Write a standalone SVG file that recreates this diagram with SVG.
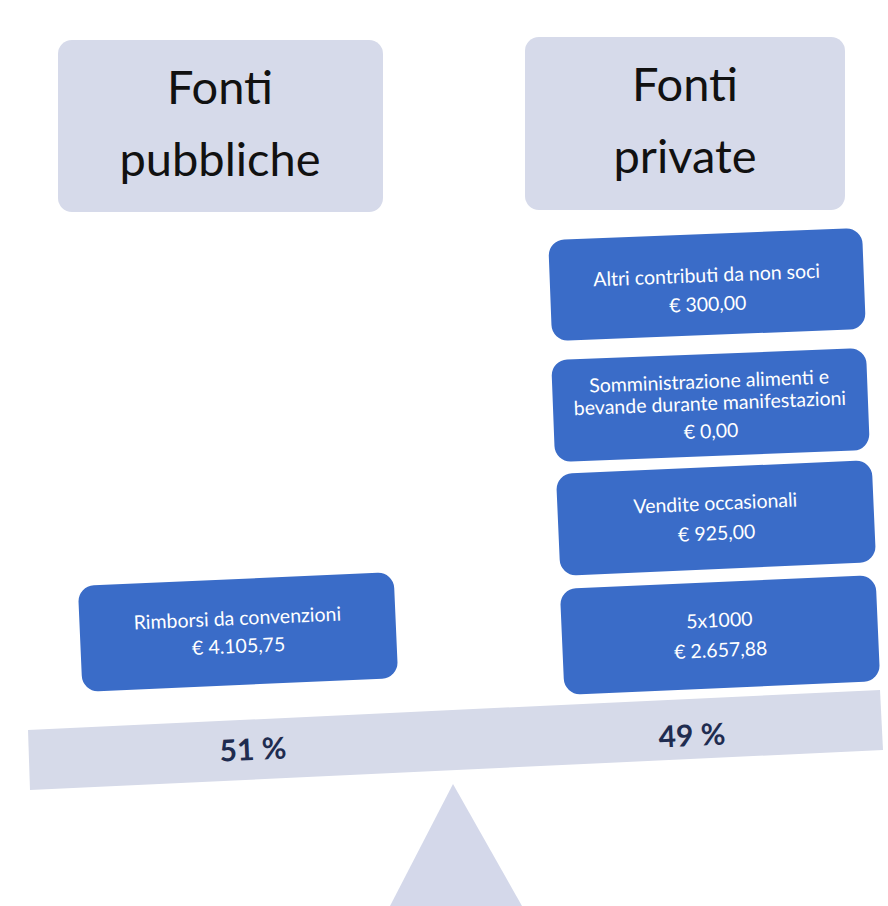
<svg xmlns="http://www.w3.org/2000/svg" width="888" height="906" viewBox="0 0 888 906">
<style>
.hdr{fill:#d6daea}
.hdrt{font-family:Lato,"Open Sans",sans-serif;font-size:47px;fill:#111;text-anchor:middle}
.blue{fill:#3a6cc8}
.bt{font-family:Lato,"Open Sans",sans-serif;font-size:19.5px;fill:#fff;text-anchor:middle}
.pct{font-family:Lato,"Open Sans",sans-serif;font-size:30px;font-weight:bold;fill:#1f2c50;text-anchor:middle}
</style>
<rect width="888" height="906" fill="#fff"/>
<g id="scale">
<polygon points="28,730 880,690 883,750 30,790" fill="#d6dae9"/>
<polygon points="453,784 390,906 522,906" fill="#d4d8ea"/>
</g>
<g id="pubbliche">
<rect class="hdr" x="58" y="40" width="325" height="172" rx="14"/>
<text class="hdrt" x="220" y="104">Fonti</text>
<text class="hdrt" x="220" y="176">pubbliche</text>
</g>
<g id="private">
<rect class="hdr" x="525" y="37" width="320" height="173" rx="14"/>
<text class="hdrt" x="685" y="101">Fonti</text>
<text class="hdrt" x="685" y="173">private</text>
</g>
<g id="altri" transform="rotate(-2.2 707 284)">
<rect class="blue" x="550" y="234" width="314" height="101" rx="16"/>
<text class="bt" x="707" y="282">Altri contributi da non soci</text>
<text class="bt" x="707" y="311">€ 300,00</text>
</g>
<g id="somministrazione" transform="rotate(-2.2 710 405)">
<rect class="blue" x="553" y="354" width="315" height="102" rx="16"/>
<text class="bt" x="710" y="388">Somministrazione alimenti e</text>
<text class="bt" x="710" y="410">bevande durante manifestazioni</text>
<text class="bt" x="710" y="438">€ 0,00</text>
</g>
<g id="vendite" transform="rotate(-2.5 716 518)">
<rect class="blue" x="558" y="467" width="316" height="102" rx="16"/>
<text class="bt" x="716" y="510">Vendite occasionali</text>
<text class="bt" x="716" y="540">€ 925,00</text>
</g>
<g id="cinquepermille" transform="rotate(-2.5 720 635)">
<rect class="blue" x="562" y="582" width="316" height="106" rx="16"/>
<text class="bt" x="720" y="627">5x1000</text>
<text class="bt" x="720" y="657">€ 2.657,88</text>
</g>
<g id="rimborsi" transform="rotate(-2.5 238 632)">
<rect class="blue" x="80" y="579" width="316" height="106" rx="16"/>
<text class="bt" x="238" y="625">Rimborsi da convenzioni</text>
<text class="bt" x="238" y="653">€ 4.105,75</text>
</g>
<g id="percent">
<text class="pct" x="253" y="760" transform="rotate(-2.5 253 750)">51 %</text>
<text class="pct" x="692" y="746" transform="rotate(-2.5 692 736)">49 %</text>
</g>
<g id="connectors"/>
</svg>
